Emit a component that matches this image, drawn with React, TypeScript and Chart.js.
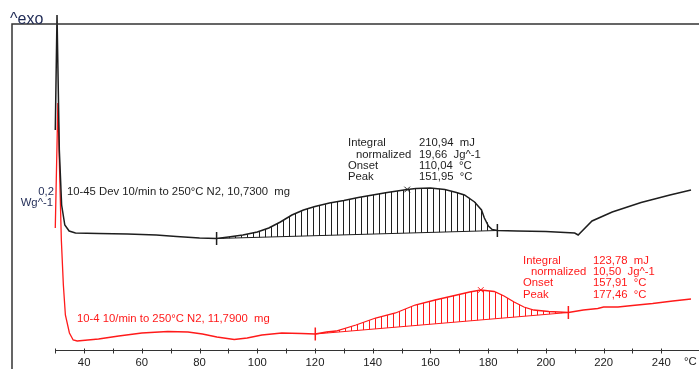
import React, { useEffect, useRef } from "react";
import { Chart, registerables } from "chart.js";

Chart.register(...registerables);

// Temperatures (°C) and heat flow (W/g, arbitrary offset)
const blackT = [30.0, 30.6, 31.4, 32.2, 33.3, 34.8, 37, 45, 55, 65, 72, 80, 85.9, 90, 95, 100, 104, 108, 112, 116, 120, 125, 130, 135, 140, 145, 151.95, 155, 160, 165, 169, 171.8, 175.3, 177.7, 178.7, 180.1, 181.4, 183.2, 190, 200, 210, 211.2, 216, 223, 233, 243, 250.3];
const blackV = [0.88, 1.34, 0.8, 0.58, 0.5, 0.476, 0.468, 0.466, 0.464, 0.46, 0.454, 0.448, 0.446, 0.452, 0.46, 0.472, 0.488, 0.512, 0.54, 0.56, 0.574, 0.588, 0.598, 0.61, 0.62, 0.63, 0.642, 0.646, 0.648, 0.642, 0.63, 0.62, 0.592, 0.56, 0.528, 0.496, 0.482, 0.478, 0.476, 0.474, 0.468, 0.46, 0.516, 0.552, 0.59, 0.62, 0.64];

const redT = [30.0, 30.9, 31.4, 32.1, 32.8, 33.5, 34.9, 36.2, 37.6, 45, 52, 60, 69, 76, 81, 86, 92, 96.5, 101.6, 108.5, 115.3, 120.1, 124, 127.3, 134.2, 141, 147.9, 154.7, 161.6, 168.4, 173.6, 177.46, 182.1, 185.5, 189, 192.4, 195.8, 201, 204.4, 207.8, 213, 218, 220, 225, 230, 237, 244, 250.3];
const redV = [0.488, 0.988, 0.76, 0.44, 0.26, 0.14, 0.068, 0.04, 0.036, 0.044, 0.056, 0.068, 0.074, 0.072, 0.064, 0.052, 0.042, 0.048, 0.06, 0.068, 0.066, 0.064, 0.072, 0.076, 0.1, 0.128, 0.148, 0.18, 0.2, 0.218, 0.232, 0.24, 0.234, 0.216, 0.192, 0.172, 0.16, 0.154, 0.152, 0.15, 0.16, 0.166, 0.172, 0.172, 0.178, 0.186, 0.196, 0.204];

// Integration limits (baseline end points) and peaks
const blackBaseT = [85.9, 183.2];
const blackBaseV = [0.446, 0.478];
const redBaseT = [120.1, 207.8];
const redBaseV = [0.064, 0.15];
const blackPeakT = [151.95];
const blackPeakV = [0.642];
const redPeakT = [177.46];
const redPeakV = [0.24];

const xTicks = [30, 40, 50, 60, 70, 80, 90, 100, 110, 120, 130, 140, 150, 160, 170, 180, 190, 200, 210, 220, 230, 240];
const labeledTicks = [40, 60, 80, 100, 120, 140, 160, 180, 200, 220, 240];

const blackInfoNames = ["Integral", "normalized", "Onset", "Peak"];
const blackInfoValues = ["210,94  mJ", "19,66  Jg^-1", "110,04  °C", "151,95  °C"];
const redInfoNames = ["Integral", "normalized", "Onset", "Peak"];
const redInfoValues = ["123,78  mJ", "10,50  Jg^-1", "157,91  °C", "177,46  °C"];

const blackLabel = "10-45 Dev 10/min to 250°C N2, 10,7300  mg";
const redLabel = "10-4 10/min to 250°C N2, 11,7900  mg";

const FONT = '"Liberation Sans", Arial, sans-serif';
const BLACK = "#1e1e1e";
const RED = "#ff1a1a";
const NAVY = "#1f2a55";

const pts = (t: number[], v: number[]) => t.map((x, i) => ({ x, y: v[i] }));

const hatchPlugin = {
  id: "hatch",
  afterDatasetsDraw(chart: any) {
    const ctx = chart.ctx;
    const specs = [
      { curve: 0, base: 2, color: BLACK },
      { curve: 1, base: 3, color: RED },
    ];
    for (const h of specs) {
      const cm = chart.getDatasetMeta(h.curve).data;
      const bm = chart.getDatasetMeta(h.base).data;
      const x0 = bm[0].x, y0 = bm[0].y, x1 = bm[1].x, y1 = bm[1].y;
      ctx.save();
      ctx.strokeStyle = h.color;
      ctx.lineWidth = 1;
      ctx.beginPath();
      for (let x = x0 + 6; x < x1 - 1; x += 6) {
        const yb = y0 + ((y1 - y0) * (x - x0)) / (x1 - x0);
        let yc: number | null = null;
        for (let i = 0; i < cm.length - 1; i++) {
          const a = cm[i], b = cm[i + 1];
          if (a.x <= x && b.x >= x) {
            yc = a.y + ((b.y - a.y) * (x - a.x)) / (b.x - a.x || 1);
            break;
          }
        }
        if (yc === null) continue;
        const px = Math.round(x) + 0.5;
        ctx.moveTo(px, yb);
        ctx.lineTo(px, yc);
      }
      ctx.stroke();
      ctx.restore();
    }
  },
};

const decorPlugin = {
  id: "decor",
  afterDraw(chart: any) {
    const ctx = chart.ctx;
    const area = chart.chartArea;
    const xs = chart.scales.x;
    ctx.save();
    // frame
    ctx.strokeStyle = "#333";
    ctx.lineWidth = 1.5;
    ctx.beginPath();
    ctx.moveTo(area.left, chart.height);
    ctx.lineTo(area.left, area.top);
    ctx.lineTo(chart.width, area.top);
    ctx.stroke();
    // x axis line + ticks
    ctx.lineWidth = 1;
    ctx.strokeStyle = "#333";
    ctx.beginPath();
    const yAx = Math.round(area.bottom) + 0.5;
    ctx.moveTo(xs.getPixelForValue(30), yAx);
    ctx.lineTo(chart.width, yAx);
    for (const t of xTicks) {
      const px = Math.round(xs.getPixelForValue(t)) + 0.5;
      ctx.moveTo(px, yAx - 2);
      ctx.lineTo(px, yAx + 3);
    }
    ctx.stroke();

    // ^exo
    ctx.fillStyle = NAVY;
    ctx.font = `16px ${FONT}`;
    ctx.textAlign = "left";
    ctx.textBaseline = "alphabetic";
    ctx.fillText("^exo", 10, 24);

    ctx.textBaseline = "middle";
    // y scale label
    ctx.font = `11.3px ${FONT}`;
    ctx.textAlign = "right";
    ctx.fillText("0,2", 54, 192);
    ctx.fillText("Wg^-1", 53, 203);
    // °C unit
    ctx.fillStyle = "#222";
    ctx.textAlign = "left";
    ctx.fillText("°C", 684, 362);

    // curve labels
    ctx.fillStyle = BLACK;
    ctx.fillText(blackLabel, 67, 192);
    ctx.fillStyle = RED;
    ctx.fillText(redLabel, 77, 319);

    // evaluation tables
    const rows = [143, 155, 166, 177];
    ctx.fillStyle = BLACK;
    blackInfoNames.forEach((n, i) => {
      ctx.fillText(n, i === 1 ? 356 : 348, rows[i]);
      ctx.fillText(blackInfoValues[i], 419, rows[i]);
    });
    const rrows = [261, 272, 283, 295];
    ctx.fillStyle = RED;
    redInfoNames.forEach((n, i) => {
      ctx.fillText(n, i === 1 ? 531 : 523, rrows[i]);
      ctx.fillText(redInfoValues[i], 593, rrows[i]);
    });
    ctx.restore();
  },
};

export default function App() {
  const ref = useRef<HTMLCanvasElement | null>(null);
  useEffect(() => {
    if (!ref.current) return;
    const chart = new Chart(ref.current, {
      type: "line",
      data: {
        datasets: [
          { data: pts(blackT, blackV), borderColor: BLACK, borderWidth: 1.5, pointRadius: 0, tension: 0, clip: false, order: 1 } as any,
          { data: pts(redT, redV), borderColor: RED, borderWidth: 1.3, pointRadius: 0, tension: 0, clip: false, order: 2 } as any,
          { data: pts(blackBaseT, blackBaseV), borderColor: BLACK, borderWidth: 1, pointRadius: 0, order: 3 },
          { data: pts(redBaseT, redBaseV), borderColor: RED, borderWidth: 1, pointRadius: 0, order: 3 },
          { data: pts(blackBaseT, blackBaseV), showLine: false, pointStyle: "line", rotation: 90, pointRadius: 6.5, borderColor: BLACK, borderWidth: 1.5, order: 0 } as any,
          { data: pts(redBaseT, redBaseV), showLine: false, pointStyle: "line", rotation: 90, pointRadius: 6.5, borderColor: RED, borderWidth: 1.5, order: 0 } as any,
          { data: pts(blackPeakT, blackPeakV), showLine: false, pointStyle: "crossRot", pointRadius: 4, borderColor: BLACK, borderWidth: 1, order: 0 } as any,
          { data: pts(redPeakT, redPeakV), showLine: false, pointStyle: "crossRot", pointRadius: 4, borderColor: RED, borderWidth: 1, order: 0 } as any,
        ],
      },
      options: {
        responsive: false,
        animation: false,
        devicePixelRatio: 1,
        layout: { padding: { left: 12, top: 24, right: 0, bottom: 0 } },
        plugins: { legend: { display: false }, tooltip: { enabled: false } },
        scales: {
          x: {
            type: "linear",
            min: 15,
            max: 250.3,
            grid: { display: false, drawTicks: false, tickLength: 0 },
            border: { display: false },
            afterFit: (s: any) => {
              s.height = 19;
            },
            afterBuildTicks: (s: any) => {
              s.ticks = labeledTicks.map((v) => ({ value: v }));
            },
            ticks: {
              autoSkip: false,
              maxRotation: 0,
              padding: 6,
              color: "#222",
              font: { family: FONT, size: 11.3 },
              callback: (v: any) => String(v),
            },
          },
          y: { display: false, min: 0, max: 1.304 },
        },
      },
      plugins: [hatchPlugin, decorPlugin],
    });
    return () => chart.destroy();
  }, []);
  return (
    <div style={{ position: "fixed", left: 0, top: 0, width: 699, height: 369, background: "#fff" }}>
      <canvas ref={ref} width={699} height={369} style={{ display: "block" }} />
    </div>
  );
}
